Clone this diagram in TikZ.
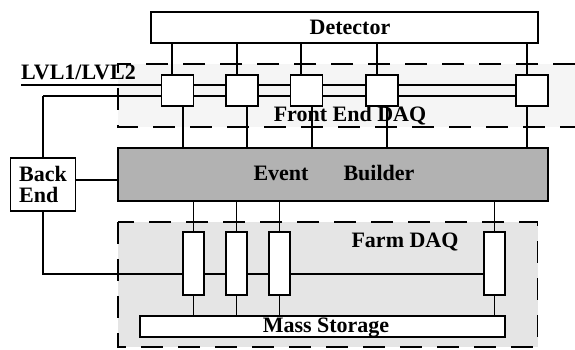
\documentclass[tikz,border=0pt]{standalone}
\usepackage{fontspec}
\setmainfont{Liberation Serif}
\pgfdeclarelayer{bg}
\pgfdeclarelayer{wires}
\pgfsetlayers{bg,wires,main}
\begin{document}
\begin{tikzpicture}[x=1pt,y=-1pt,
  every node/.style={font=\fontsize{22}{21}\selectfont\bfseries},
  box/.style={draw, line width=1.3pt, fill=white, inner sep=0pt},
  febox/.style={box, minimum width=32pt, minimum height=31pt},
  fbox/.style={box, minimum width=21pt, minimum height=63pt},
  wire/.style={line width=1.4pt},
  region/.style={line width=1.3pt, dash pattern=on 22pt off 15pt},
  lbl/.style={inner sep=0pt, anchor=base}]
\useasboundingbox (0,0) rectangle (575,349);

% main boxes
\node[box, minimum width=387pt, minimum height=31pt] (det) at (344.5,27.5) {};
\node[lbl] (dettext) at (350,34) {Detector};

\node[febox] (fe1) at (177.5,90.5) {};
\node[febox] (fe2) at (242,90.5) {};
\node[febox] (fe3) at (306.5,90.5) {};
\node[febox] (fe4) at (382,90.5) {};
\node[febox] (fe5) at (532,90.5) {};

\node[box, fill=black!30, minimum width=430pt, minimum height=53pt] (eb) at (333,174.5) {};
\node[lbl] (ebtext) at (334,180) {Event\hspace{35pt}Builder};
\node[box, minimum width=65pt, minimum height=53pt, align=left] (be) at (43,184.5) {Back\\End};

\node[fbox] (fb1) at (193.5,263.5) {};
\node[fbox] (fb2) at (236.5,263.5) {};
\node[fbox] (fb3) at (279.5,263.5) {};
\node[fbox] (fb4) at (494.5,263.5) {};

\node[box, minimum width=365pt, minimum height=21pt] (ms) at (322.5,326.5) {};
\node[lbl] (mstext) at (326,332) {Mass Storage};

\node[lbl] (fetext) at (350,121.5) {Front End DAQ};
\node[lbl] (farmtext) at (405,247) {Farm DAQ};
\node[lbl, anchor=base west] (lvltext) at (21,79) {LVL1/LVL2};

\coordinate (lvl) at (21,85);
\coordinate (bk) at (43,96);
\coordinate (bl) at (43,274);

\begin{pgfonlayer}{bg}
  \fill[black!4] (118,64) rectangle (575,127);
  \draw[region] (575,64) -- (118,64) -- (118,127) -- (575,127);
  \fill[black!10] (118,222) rectangle (537.5,347);
  \draw[region] (118,222) rectangle (537.5,347);
\end{pgfonlayer}

\begin{pgfonlayer}{wires}
  \draw[wire] (lvl) -- (lvl -| fe5.west);
  \draw[wire] (bk) -- (bk -| fe5.west);
  \draw[wire] (bk) -- (be.north);
  \draw[wire] (be.south) -- (bl) -- (bl -| fb4.west);
  \draw[wire] ([yshift=4.5pt]be.east) -- ([yshift=4.5pt]be.east -| eb.west);
  \foreach \n/\d in {1/-5.5,2/-5,3/-5.5,4/-5,5/-5}
    \draw[wire] ([xshift=\d pt]fe\n.north) -- ([xshift=\d pt]fe\n.north |- det.south);
  \foreach \n/\d in {1/5.5,2/5,3/5.5,4/5,5/-5}
    \draw[wire] ([xshift=\d pt]fe\n.south) -- ([xshift=\d pt]fe\n.south |- eb.north);
  \foreach \n in {1,2,3,4}{
    \draw[wire] (fb\n.north |- eb.south) -- (fb\n.north);
    \draw[wire] (fb\n.south) -- (fb\n.south |- ms.north);
  }
\end{pgfonlayer}
\end{tikzpicture}
\end{document}
